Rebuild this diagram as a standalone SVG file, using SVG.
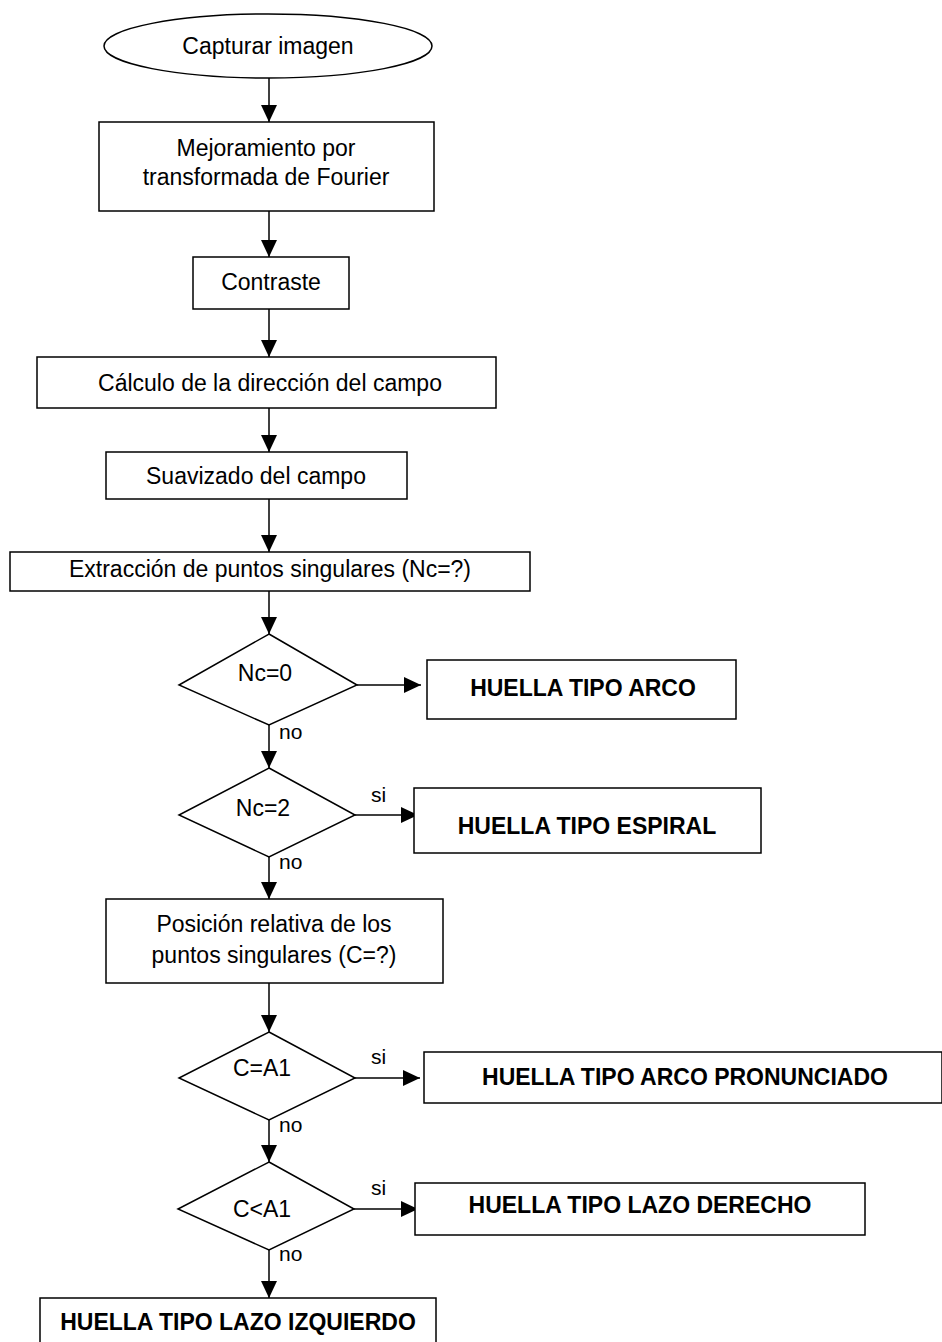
<svg xmlns="http://www.w3.org/2000/svg" width="942" height="1342" viewBox="0 0 942 1342">
<style>
.s{fill:#fff;stroke:#000;stroke-width:1.5}
.t{font-family:"Liberation Sans",Arial,sans-serif;font-size:23px;fill:#000;text-anchor:middle}
.b{font-family:"Liberation Sans",Arial,sans-serif;font-size:23px;font-weight:bold;fill:#000;text-anchor:middle}
.l{font-family:"Liberation Sans",Arial,sans-serif;font-size:21px;fill:#000}
.c{stroke:#000;stroke-width:1.5;fill:none;marker-end:url(#ah)}
</style>
<defs>
<marker id="ah" markerUnits="userSpaceOnUse" markerWidth="20" markerHeight="20" refX="17" refY="8" orient="auto">
<path d="M0,0 L17,8 L0,16 z" fill="#000"/>
</marker>
</defs>
<rect width="942" height="1342" fill="#fff"/>
<g id="connectors">
<line class="c" x1="269" y1="78" x2="269" y2="122"/>
<line class="c" x1="269" y1="211" x2="269" y2="257"/>
<line class="c" x1="269" y1="309" x2="269" y2="357"/>
<line class="c" x1="269" y1="408" x2="269" y2="452"/>
<line class="c" x1="269" y1="499" x2="269" y2="552"/>
<line class="c" x1="269" y1="591" x2="269" y2="634"/>
<line class="c" x1="357" y1="685" x2="421" y2="685"/>
<line class="c" x1="269" y1="725" x2="269" y2="768"/>
<line class="c" x1="355" y1="815" x2="418" y2="815"/>
<line class="c" x1="269" y1="857" x2="269" y2="899"/>
<line class="c" x1="269" y1="983" x2="269" y2="1032"/>
<line class="c" x1="355" y1="1078" x2="420" y2="1078"/>
<line class="c" x1="269" y1="1120" x2="269" y2="1162"/>
<line class="c" x1="354" y1="1209" x2="418" y2="1209"/>
<line class="c" x1="269" y1="1250" x2="269" y2="1298"/>
<text class="l" x="279" y="739">no</text>
<text class="l" x="371" y="802">si</text>
<text class="l" x="279" y="869">no</text>
<text class="l" x="371" y="1064">si</text>
<text class="l" x="279" y="1132">no</text>
<text class="l" x="371" y="1195">si</text>
<text class="l" x="279" y="1261">no</text>
</g>
<g id="n1"><ellipse class="s" cx="268" cy="46" rx="164" ry="32"/><text class="t" x="268" y="54">Capturar imagen</text></g>
<g id="n2"><rect class="s" x="99" y="122" width="335" height="89"/><text class="t" x="266" y="156">Mejoramiento por</text><text class="t" x="266" y="185">transformada de Fourier</text></g>
<g id="n3"><rect class="s" x="193" y="257" width="156" height="52"/><text class="t" x="271" y="290">Contraste</text></g>
<g id="n4"><rect class="s" x="37" y="357" width="459" height="51"/><text class="t" x="270" y="391">Cálculo de la dirección del campo</text></g>
<g id="n5"><rect class="s" x="106" y="452" width="301" height="47"/><text class="t" x="256" y="484">Suavizado del campo</text></g>
<g id="n6"><rect class="s" x="10" y="552" width="520" height="39"/><text class="t" x="270" y="577">Extracción de puntos singulares (Nc=?)</text></g>
<g id="d1"><polygon class="s" points="269,634 357,685 269,725 179,685"/><text class="t" x="265" y="681">Nc=0</text></g>
<g id="r1"><rect class="s" x="427" y="660" width="309" height="59"/><text class="b" x="583" y="696">HUELLA TIPO ARCO</text></g>
<g id="d2"><polygon class="s" points="269,768 355,815 269,857 179,815"/><text class="t" x="263" y="816">Nc=2</text></g>
<g id="r2"><rect class="s" x="414" y="788" width="347" height="65"/><text class="b" x="587" y="834">HUELLA TIPO ESPIRAL</text></g>
<g id="n7"><rect class="s" x="106" y="899" width="337" height="84"/><text class="t" x="274" y="932">Posición relativa de los</text><text class="t" x="274" y="963">puntos singulares (C=?)</text></g>
<g id="d3"><polygon class="s" points="269,1032 355,1078 269,1120 179,1078"/><text class="t" x="262" y="1076">C=A1</text></g>
<g id="r3"><rect class="s" x="424" y="1052" width="518" height="51"/><text class="b" x="685" y="1085">HUELLA TIPO ARCO PRONUNCIADO</text></g>
<g id="d4"><polygon class="s" points="269,1162 354,1209 269,1250 178,1209"/><text class="t" x="262" y="1217">C&lt;A1</text></g>
<g id="r4"><rect class="s" x="415" y="1183" width="450" height="52"/><text class="b" x="640" y="1213">HUELLA TIPO LAZO DERECHO</text></g>
<g id="r5"><rect class="s" x="40" y="1298" width="396" height="50"/><text class="b" x="238" y="1330">HUELLA TIPO LAZO IZQUIERDO</text></g>
</svg>
